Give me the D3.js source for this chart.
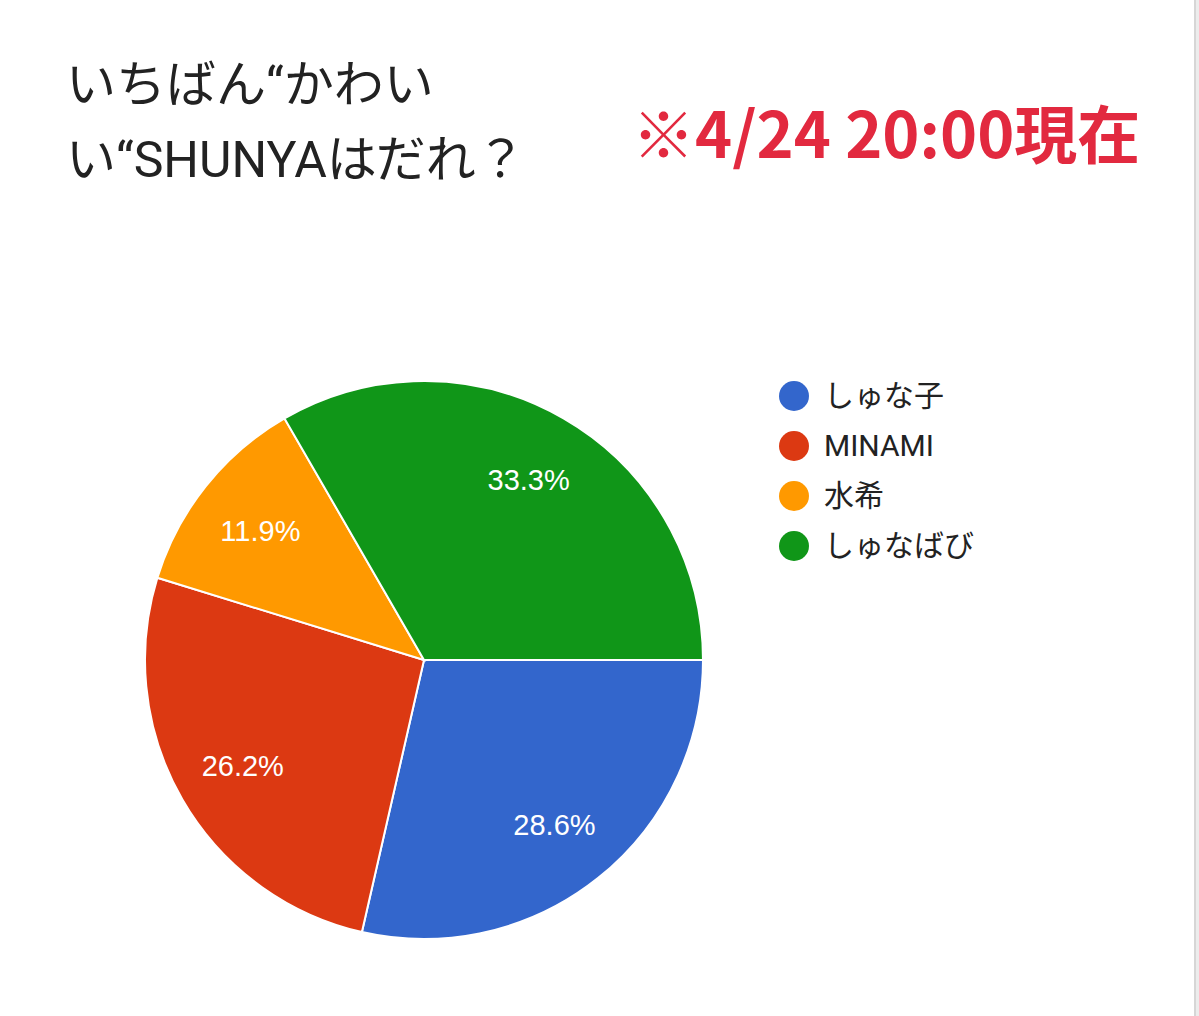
<!DOCTYPE html>
<html>
<head>
<meta charset="utf-8">
<script src="https://cdn.jsdelivr.net/npm/d3@7"></script>
<style>
  html, body { margin: 0; padding: 0; background: #fff; }
  svg { display: block; }
</style>
</head>
<body>
<svg id="svg" width="1199" height="1016"></svg>
<script>
// データ
const names = ["しゅな子", "MINAMI", "水希", "しゅなばび"];
const votes = [12, 11, 5, 14];
const colors = ["#3366cc", "#dc3912", "#ff9900", "#109618"];
const titleLines = ["いちばん“かわい", "い“SHUNYAはだれ？"];
const noteText = "※4/24 20:00現在";

const svg = d3.select("#svg");
const W = 1199, H = 1016;

// カードの枠（右端のグレー）
svg.append("rect")
  .attr("x", 0).attr("y", 0)
  .attr("width", W).attr("height", H)
  .attr("fill", "#ececec");
svg.append("rect")
  .attr("x", -20).attr("y", -20)
  .attr("width", 1215).attr("height", H + 40)
  .attr("rx", 12)
  .attr("fill", "#ffffff")
  .attr("stroke", "#d6d6d6")
  .attr("stroke-width", 2);

// タイトル
const title = svg.append("text")
  .attr("x", 67)
  .attr("font-family", "Roboto, 'Noto Sans CJK JP', sans-serif")
  .attr("font-size", 50)
  .attr("fill", "#222222");
title.selectAll("tspan")
  .data(titleLines)
  .join("tspan")
  .attr("x", 66)
  .attr("y", (d, i) => 102 + i * 75)
  .text(d => d);

// 日時の注記
svg.append("text")
  .attr("x", 632)
  .attr("y", 158)
  .attr("font-family", "'Noto Sans CJK JP', sans-serif")
  .attr("font-weight", "bold")
  .attr("font-size", 63)
  .attr("fill", "#e2293f")
  .text(noteText);

// 円グラフ
const cx = 424, cy = 660, radius = 279;
const total = d3.sum(votes);
const pie = d3.pie().sort(null).startAngle(Math.PI / 2).endAngle(Math.PI / 2 + 2 * Math.PI);
const arcs = pie(votes);
const arc = d3.arc().innerRadius(0).outerRadius(radius);
const labelArc = d3.arc().innerRadius(radius * 0.75).outerRadius(radius * 0.75);

const g = svg.append("g").attr("transform", `translate(${cx},${cy})`);
g.selectAll("path")
  .data(arcs)
  .join("path")
  .attr("d", arc)
  .attr("fill", (d, i) => colors[i])
  .attr("stroke", "#ffffff")
  .attr("stroke-width", 2);

const fmt = d3.format(".1%");
g.selectAll("text")
  .data(arcs)
  .join("text")
  .attr("transform", d => `translate(${labelArc.centroid(d)})`)
  .attr("text-anchor", "middle")
  .attr("dy", "0.38em")
  .attr("font-family", "Arial, 'Liberation Sans', sans-serif")
  .attr("font-size", 29)
  .attr("fill", "#ffffff")
  .text(d => fmt(d.value / total));

// 凡例
const legend = svg.append("g").attr("transform", "translate(794,396)");
const item = legend.selectAll("g")
  .data(names)
  .join("g")
  .attr("transform", (d, i) => `translate(0,${i * 50})`);
item.append("circle")
  .attr("r", 15)
  .attr("fill", (d, i) => colors[i]);
item.append("text")
  .attr("x", 30)
  .attr("y", 10)
  .attr("font-family", "Roboto, 'Noto Sans CJK JP', sans-serif")
  .attr("font-size", 30)
  .attr("fill", "#222222")
  .text(d => d);
</script>
</body>
</html>
